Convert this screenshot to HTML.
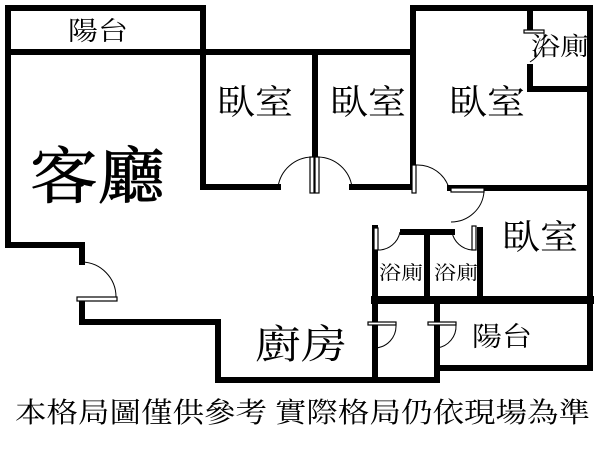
<!DOCTYPE html>
<html><head><meta charset="utf-8"><style>
body{margin:0;background:#fff}
svg{display:block}
text{font-family:"Liberation Serif","Noto Serif CJK SC","Noto Sans CJK TC",serif;fill:#000}
</style></head><body>
<svg width="600" height="450" viewBox="0 0 600 450">
<g stroke="#000" stroke-width="6" fill="none" stroke-linecap="square" stroke-linejoin="miter">
<polyline points="203,187 203,8 8,8 8,245 82,245 82,262"/>
<polyline points="82,300 82,322 218,322 218,380 437,380 437,303"/>
<line x1="8" y1="52" x2="413" y2="52"/>
<line x1="203" y1="187" x2="278" y2="187"/>
<line x1="315" y1="52" x2="315" y2="157"/>
<polyline points="352,187 413,187 413,8 590,8 590,368 437,368"/>
<line x1="450" y1="188" x2="590" y2="188"/>
<line x1="530" y1="8" x2="530" y2="30"/>
<polyline points="530,67 530,89 590,89"/>
<line x1="375" y1="228" x2="375" y2="380"/>
<line x1="403" y1="232" x2="452" y2="232"/>
<line x1="427" y1="232" x2="427" y2="300"/>
<line x1="480" y1="230" x2="480" y2="300"/>
<line x1="375" y1="300" x2="590" y2="300" stroke-width="8"/>
</g>
<g stroke="#000" stroke-width="1.2" fill="#fff">
<rect x="310" y="157" width="4" height="36"/><rect x="315" y="157" width="4" height="36"/>
<rect x="412" y="165" width="4" height="28"/>
<rect x="451" y="188" width="33" height="4"/>
<rect x="77" y="297" width="40" height="4"/>
<rect x="374" y="228" width="4" height="22"/>
<rect x="472" y="226" width="4" height="24"/>
<rect x="524" y="30" width="20" height="3"/>
<rect x="368" y="322" width="28" height="3"/>
<rect x="428" y="322" width="28" height="3"/>
</g>
<g stroke="#000" stroke-width="1" fill="none">
<path d="M278,187 A35,35 0 0 1 312,157"/>
<path d="M318,157 A35,35 0 0 1 352,187"/>
<path d="M416,165 A33,33 0 0 1 449,188"/>
<path d="M484,192 A33,33 0 0 1 451,222"/>
<path d="M82,262 A35,35 0 0 1 116,297"/>
<path d="M378,250 A22,22 0 0 0 400,232"/>
<path d="M472,250 A22,22 0 0 1 452,232"/>
<path d="M544,33 A30,30 0 0 1 530,62"/>
<path d="M396,325 A22,22 0 0 1 375,348"/>
<path d="M456,325 A22,22 0 0 1 437,348"/>
</g>
<text x="68" y="40" font-size="26" textLength="60" lengthAdjust="spacingAndGlyphs">陽台</text>
<text x="30" y="198" font-size="62" textLength="135" lengthAdjust="spacingAndGlyphs" stroke="#000" stroke-width="0.8">客廳</text>
<text x="217" y="114" font-size="34" textLength="76" lengthAdjust="spacingAndGlyphs">臥室</text>
<text x="330" y="114" font-size="34" textLength="76" lengthAdjust="spacingAndGlyphs">臥室</text>
<text x="449" y="114" font-size="34" textLength="76" lengthAdjust="spacingAndGlyphs">臥室</text>
<text x="531" y="55" font-size="25" textLength="58" lengthAdjust="spacingAndGlyphs">浴廁</text>
<text x="502" y="249" font-size="34" textLength="76" lengthAdjust="spacingAndGlyphs">臥室</text>
<text x="379" y="279" font-size="19" textLength="44" lengthAdjust="spacingAndGlyphs">浴廁</text>
<text x="434" y="279" font-size="19" textLength="44" lengthAdjust="spacingAndGlyphs">浴廁</text>
<text x="255" y="358" font-size="40" textLength="92" lengthAdjust="spacingAndGlyphs">廚房</text>
<text x="472" y="346" font-size="27" textLength="60" lengthAdjust="spacingAndGlyphs">陽台</text>
<text x="15" y="422" font-size="28" textLength="575" lengthAdjust="spacingAndGlyphs">本格局圖僅供參考 實際格局仍依現場為準</text>
</svg>
</body></html>
